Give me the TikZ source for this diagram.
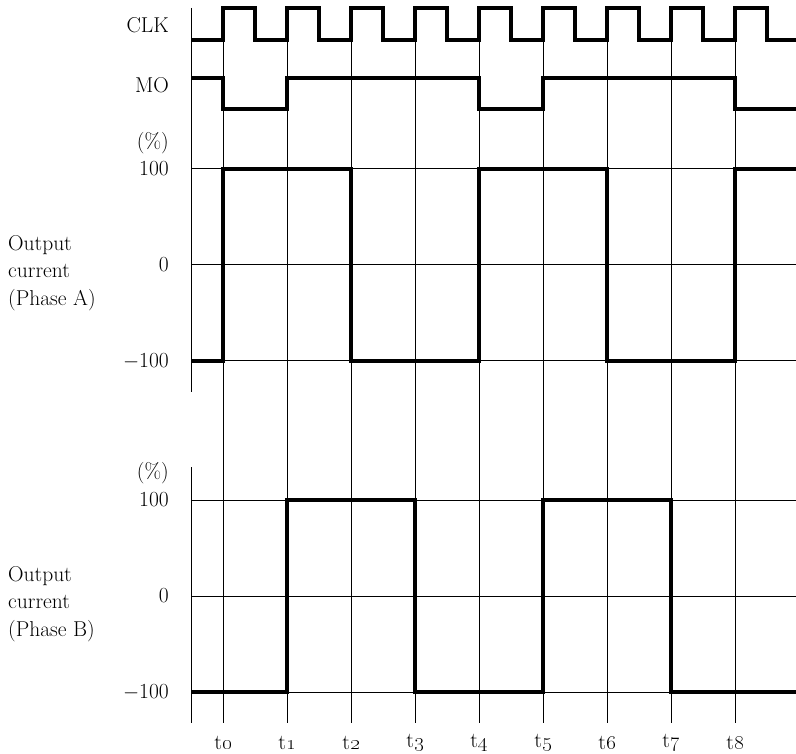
\documentclass[tikz,border=0pt]{standalone}
\begin{document}
\begin{tikzpicture}[x=1pt,y=-1pt,
  wave/.style={line width=3.6pt,line join=miter},
  grid/.style={line width=1.0pt},
  lab/.style={anchor=east,inner sep=0pt,font=\fontsize{21.5}{26}\selectfont},
  side/.style={anchor=west,align=left,inner sep=0pt,font=\fontsize{21.5}{27.5}\selectfont},
  tlab/.style={anchor=center,inner sep=0pt,font=\fontsize{21.5}{26}\selectfont}]
\useasboundingbox (0,0) rectangle (796,754);
% grid verticals
\foreach \i in {0,...,8} {
  \draw[grid] ({223+64*\i},40) -- ({223+64*\i},723);
  \node[tlab] at ({223+64*\i},743) {t\oldstylenums{\i}};
}
% axes
\draw[grid] (191,8) -- (191,392);
\draw[grid] (191,467) -- (191,723);
% horizontals
\foreach \y in {169,265,361,500,596,692} \draw[grid] (191,\y) -- (796,\y);
% CLK
\draw[wave] (191,40) -- (223,40)
  \foreach \i in {0,...,8} { -- ({223+64*\i},8) -- ({255+64*\i},8) -- ({255+64*\i},40) -- ({287+64*\i},40) };
\fill[white] (796,0) rectangle (830,50);
% MO
\draw[wave] (191,78) -- (223,78) -- (223,109) -- (287,109) -- (287,78) -- (479,78) -- (479,109) -- (543,109) -- (543,78) -- (735,78) -- (735,109) -- (796,109);
% Phase A
\draw[wave] (191,361) -- (223,361) -- (223,169) -- (351,169) -- (351,361) -- (479,361) -- (479,169) -- (607,169) -- (607,361) -- (735,361) -- (735,169) -- (796,169);
% Phase B
\draw[wave] (191,692) -- (287,692) -- (287,500) -- (415,500) -- (415,692) -- (543,692) -- (543,500) -- (671,500) -- (671,692) -- (796,692);
% labels
\node[lab] (clk) at (169,25) {CLK};
\node[lab] (mo) at (169,85) {MO};
\node[lab] (pa) at (169,143) {(\%)};
\node[lab] (a100) at (169,169) {100};
\node[lab] (a0) at (169,265) {0};
\node[lab] (am100) at (169,361) {$-$100};
\node[lab] (pb) at (169,473) {(\%)};
\node[lab] (b100) at (169,500) {100};
\node[lab] (b0) at (169,596) {0};
\node[lab] (bm100) at (169,692) {$-$100};
\node[side] (sa) at (8,273) {Output\\current\\(Phase A)};
\node[side] (sb) at (8,604) {Output\\current\\(Phase B)};
\end{tikzpicture}
\end{document}
